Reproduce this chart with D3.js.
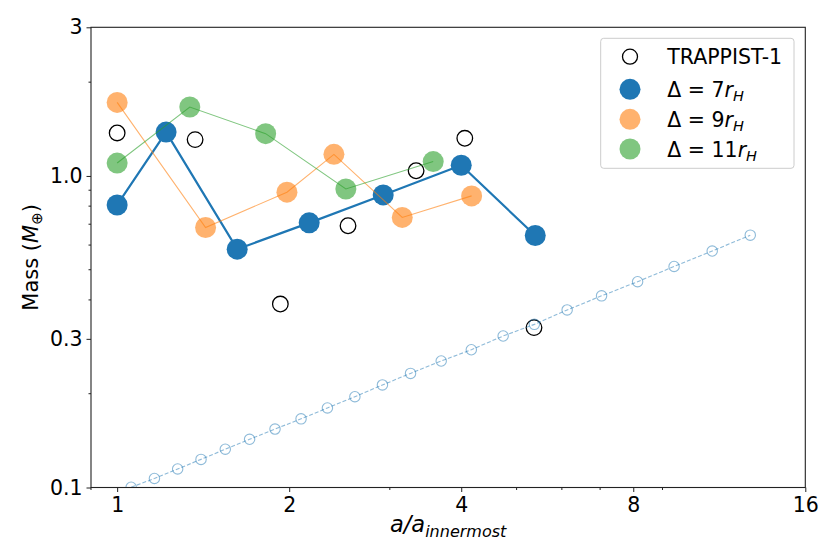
<!DOCTYPE html>
<html>
<head>
<meta charset="utf-8">
<script src="https://cdn.jsdelivr.net/npm/d3@7"></script>
<style>
  body { margin: 0; background: #fff; }
  text { font-family: "DejaVu Sans", sans-serif; fill: #000; }
</style>
</head>
<body>
<script>
// dados
var tickX = [1, 2, 4, 8, 16];
var tickLabelX = ["1", "2", "4", "8", "16"];
var minorX = [0.9, 3, 5, 6, 7, 9];
var tickY = [0.1, 0.3, 1.0, 3];
var tickLabelY = ["0.1", "0.3", "1.0", "3"];
var minorY = [0.2, 0.4, 0.5, 0.6, 0.7, 0.8, 0.9, 2];

var trappistA = [1.0, 1.369, 1.930, 2.535, 3.335, 4.058, 5.363];
var trappistM = [1.374, 1.308, 0.388, 0.692, 1.039, 1.321, 0.326];

var d7A = [1.0, 1.218, 1.622, 2.168, 2.921, 4.0, 5.39];
var d7M = [0.807, 1.383, 0.582, 0.707, 0.869, 1.082, 0.644];

var d9A = [1.0, 1.428, 1.982, 2.395, 3.154, 4.171];
var d9M = [1.722, 0.683, 0.887, 1.173, 0.736, 0.863];

var d11A = [1.0, 1.340, 1.819, 2.513, 3.573];
var d11M = [1.10, 1.664, 1.367, 0.908, 1.112];

var limA = [1.058, 1.162, 1.276, 1.402, 1.546, 1.705, 1.889, 2.098, 2.333, 2.606, 2.912,
            3.261, 3.690, 4.166, 4.736, 5.371, 6.129, 7.041, 8.141, 9.430, 10.996, 12.818];
var limM = [0.1002, 0.1069, 0.1147, 0.1231, 0.1327, 0.1428, 0.1540, 0.1661, 0.1800, 0.1956, 0.2134,
            0.2324, 0.2547, 0.2768, 0.3064, 0.3339, 0.3715, 0.4122, 0.4577, 0.5122, 0.5741, 0.6456];

var legendNames = ["TRAPPIST-1", "7", "9", "11"];

// dimensoes
var W = 830, H = 554;
var margin = {top: 27.3, right: 24.7, bottom: 66.5, left: 91};
var width = W - margin.left - margin.right;
var height = H - margin.top - margin.bottom;

// escalas
var xScale = d3.scaleLog().base(2).domain([0.9, 16]).range([0, width]);
var yScale = d3.scaleLog().domain([0.1, 3]).range([height, 0]);

var svg = d3.select("body").append("svg")
    .attr("width", W)
    .attr("height", H);

var g = svg.append("g")
    .attr("transform", "translate(" + margin.left + "," + margin.top + ")");

g.append("clipPath").attr("id", "clip")
  .append("rect").attr("width", width).attr("height", height);

var plot = g.append("g").attr("clip-path", "url(#clip)");

function zip(a, m) {
  return a.map(function(d, i) { return {a: d, m: m[i]}; });
}

var line = d3.line()
    .x(function(d) { return xScale(d.a); })
    .y(function(d) { return yScale(d.m); });

// TRAPPIST-1
plot.selectAll("circle.trap")
    .data(zip(trappistA, trappistM))
    .enter().append("circle")
    .attr("class", "trap")
    .attr("cx", function(d) { return xScale(d.a); })
    .attr("cy", function(d) { return yScale(d.m); })
    .attr("r", 7.8)
    .attr("fill", "none")
    .attr("stroke", "#000")
    .attr("stroke-width", 1.3);

// series
var series = [
  {data: zip(d7A, d7M), color: "#1f77b4", op: 1, lw: 2.2},
  {data: zip(d9A, d9M), color: "#ff7f0e", op: 0.6, lw: 1.1},
  {data: zip(d11A, d11M), color: "#2ca02c", op: 0.6, lw: 1.1}
];

series.forEach(function(s) {
  plot.append("path")
      .datum(s.data)
      .attr("d", line)
      .attr("fill", "none")
      .attr("stroke", s.color)
      .attr("stroke-opacity", s.op)
      .attr("stroke-width", s.lw);
  plot.selectAll(null)
      .data(s.data)
      .enter().append("circle")
      .attr("cx", function(d) { return xScale(d.a); })
      .attr("cy", function(d) { return yScale(d.m); })
      .attr("r", 10.5)
      .attr("fill", s.color)
      .attr("fill-opacity", s.op);
});

// linha tracejada
var lim = zip(limA, limM);
plot.append("path")
    .datum(lim)
    .attr("d", line)
    .attr("fill", "none")
    .attr("stroke", "#1f77b4")
    .attr("stroke-opacity", 0.5)
    .attr("stroke-width", 1.1)
    .attr("stroke-dasharray", "4,2");
plot.selectAll("circle.lim")
    .data(lim)
    .enter().append("circle")
    .attr("class", "lim")
    .attr("cx", function(d) { return xScale(d.a); })
    .attr("cy", function(d) { return yScale(d.m); })
    .attr("r", 5.2)
    .attr("fill", "none")
    .attr("stroke", "#1f77b4")
    .attr("stroke-opacity", 0.5)
    .attr("stroke-width", 1.1);

// eixos
var xAxis = d3.axisBottom(xScale).tickValues(tickX)
    .tickFormat(function(d, i) { return tickLabelX[i]; })
    .tickSize(4.5).tickPadding(5);
var xAxisGroup = g.append("g")
    .attr("transform", "translate(0," + height + ")")
    .call(xAxis);
xAxisGroup.append("g").selectAll("line")
    .data(minorX).enter().append("line")
    .attr("x1", function(d) { return xScale(d); })
    .attr("x2", function(d) { return xScale(d); })
    .attr("y2", 2.5).attr("stroke", "#222");

var yAxis = d3.axisLeft(yScale).tickValues(tickY)
    .tickFormat(function(d, i) { return tickLabelY[i]; })
    .tickSize(4.5).tickPadding(4);
var yAxisGroup = g.append("g").call(yAxis);
yAxisGroup.append("g").selectAll("line")
    .data(minorY).enter().append("line")
    .attr("y1", function(d) { return yScale(d); })
    .attr("y2", function(d) { return yScale(d); })
    .attr("x2", -2.5).attr("stroke", "#222");

[xAxisGroup, yAxisGroup].forEach(function(ax) {
  ax.select(".domain").remove();
  ax.selectAll(".tick line").attr("stroke", "#222");
  ax.selectAll(".tick text")
    .attr("font-family", "DejaVu Sans")
    .attr("font-size", "20.5px")
    .attr("fill", "#000");
});

// moldura
g.append("rect")
    .attr("width", width).attr("height", height)
    .attr("fill", "none").attr("stroke", "#222").attr("stroke-width", 1.1);

// rotulos
var xl = svg.append("text")
    .attr("x", margin.left + width / 2)
    .attr("y", 532)
    .attr("text-anchor", "middle")
    .attr("font-size", "22.5px")
    .attr("font-style", "italic");
xl.append("tspan").text("a/a");
xl.append("tspan").attr("font-size", "16px").attr("dy", 5).text("innermost");

var yl = svg.append("text")
    .attr("transform", "translate(38," + (margin.top + height / 2) + ") rotate(-90)")
    .attr("text-anchor", "middle")
    .attr("font-size", "21px");
yl.append("tspan").text("Mass (");
yl.append("tspan").attr("font-style", "italic").text("M");
yl.append("tspan").attr("font-size", "15px").attr("dy", 4).text("⊕");
yl.append("tspan").attr("dy", -4).text(")");

// legenda
var leg = svg.append("g");
leg.append("rect")
    .attr("x", 600.7).attr("y", 38.3)
    .attr("width", 193.3).attr("height", 130)
    .attr("rx", 3)
    .attr("fill", "#fff").attr("fill-opacity", 0.8)
    .attr("stroke", "#ccc").attr("stroke-width", 1);

var legY = [56.7, 89.3, 119.3, 149];
var legColors = [null, "#1f77b4", "#ff7f0e", "#2ca02c"];
var legOp = [1, 1, 0.6, 0.6];

legendNames.forEach(function(name, i) {
  if (i == 0) {
    leg.append("circle").attr("cx", 630).attr("cy", legY[i]).attr("r", 7.5)
       .attr("fill", "none").attr("stroke", "#000").attr("stroke-width", 1.3);
    leg.append("text").attr("x", 667.3).attr("y", legY[i] + 7.5)
       .attr("font-size", "20.5px").text(name);
  } else {
    leg.append("circle").attr("cx", 630).attr("cy", legY[i]).attr("r", 10.5)
       .attr("fill", legColors[i]).attr("fill-opacity", legOp[i]);
    var t = leg.append("text").attr("x", 667.3).attr("y", legY[i] + 7.5)
       .attr("font-size", "20.5px");
    t.append("tspan").text("Δ = " + name);
    t.append("tspan").attr("font-style", "italic").text("r");
    t.append("tspan").attr("font-style", "italic").attr("font-size", "14.5px")
       .attr("dy", 4.5).text("H");
  }
});
</script>
</body>
</html>
